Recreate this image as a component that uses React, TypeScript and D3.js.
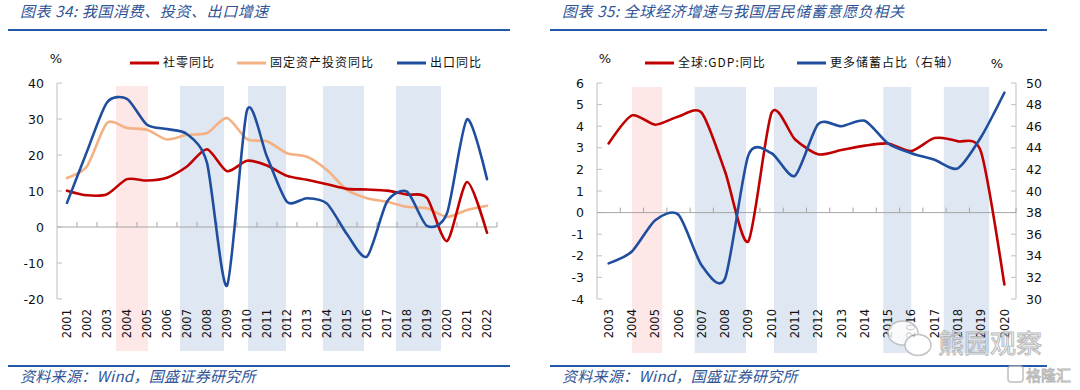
import React, { useRef, useEffect } from 'react'
import * as d3 from 'd3'

// chart 34
const years34 = ['2001', '2002', '2003', '2004', '2005', '2006', '2007', '2008', '2009', '2010', '2011',
  '2012', '2013', '2014', '2015', '2016', '2017', '2018', '2019', '2020', '2021', '2022']
const retail = [10.1, 8.8, 9.1, 13.3, 12.9, 13.7, 16.8, 21.6, 15.5, 18.4, 17.1, 14.2, 13.1, 11.9, 10.6, 10.4, 10.1, 9.0, 8.1, -3.9, 12.5, -1.6]
const invest = [13.6, 16.9, 28.9, 27.5, 27.0, 24.3, 25.6, 26.1, 30.3, 24.4, 23.8, 20.5, 19.5, 15.8, 10.3, 8.0, 7.0, 5.6, 5.2, 2.8, 4.7, 5.9]
const exportYoy = [6.7, 21.0, 34.6, 35.6, 28.4, 27.2, 25.8, 17.8, -16.3, 32.4, 19.5, 7.0, 8.0, 6.5, -2.0, -8.2, 7.0, 9.8, 0.3, 3.8, 29.9, 13.3]
const pinkBands34 = [[2003.45, 2005.05]]
const blueBands34 = [[2006.65, 2008.85], [2010.05, 2011.95], [2013.8, 2015.85], [2017.45, 2019.7]]
const ticks34 = [-20, -10, 0, 10, 20, 30, 40]

// chart 35
const years35 = ['2003', '2004', '2005', '2006', '2007', '2008', '2009', '2010', '2011', '2012',
  '2013', '2014', '2015', '2016', '2017', '2018', '2019', '2020']
const worldGdp = [3.2, 4.5, 4.07, 4.45, 4.62, 1.9, -1.33, 4.62, 3.4, 2.7, 2.9, 3.1, 3.2, 2.85, 3.45, 3.3, 2.8, -3.33]
const moreSaving = [33.3, 34.4, 37.3, 37.8, 33.1, 31.9, 43.3, 43.5, 41.4, 46.2, 46.0, 46.5, 44.4, 43.5, 42.9, 42.1, 45.0, 49.1]
const pinkBands35 = [[2004, 2005.3]]
const blueBands35 = [[2006.7, 2008.9], [2010.1, 2011.95], [2014.8, 2016], [2017.4, 2019.35]]
const ticks35L = [-4, -3, -2, -1, 0, 1, 2, 3, 4, 5, 6]
const ticks35R = [30, 32, 34, 36, 38, 40, 42, 44, 46, 48, 50]

const RED = '#c00000'
const ORANGE = '#f4b183'
const BLUE = '#1f4e9f'
const TITLE = '#2f5597'
const RULE = '#2457a8'
const AXIS = '#bfbfbf'
const PINK_BG = '#fde7e7'
const BLUE_BG = '#dfe7f2'
const NUM_FONT = '"DejaVu Sans", Verdana, sans-serif'
const CJK_FONT = '"Noto Sans CJK SC", "Noto Sans", sans-serif'

export default function App() {
  const svgRef = useRef<SVGSVGElement | null>(null)

  useEffect(() => {
    if (!svgRef.current) return
    const svg = d3.select(svgRef.current)
    svg.selectAll('*').remove()

    // excel-like smoothing, a bit tighter than plain catmull-rom
    const curve = d3.curveCardinal.tension(0.25)

    const frame = (x0: number, x1: number, title: string) => {
      svg.append('text').attr('x', x0 + 12).attr('y', 17)
        .attr('font-family', CJK_FONT).attr('font-style', 'italic').attr('font-size', 15)
        .attr('letter-spacing', 0.6).attr('fill', TITLE).text(title)
      svg.append('line').attr('x1', x0).attr('x2', x1).attr('y1', 30).attr('y2', 30)
        .attr('stroke', RULE).attr('stroke-width', 2)
      svg.append('line').attr('x1', x0).attr('x2', x1).attr('y1', 366).attr('y2', 366)
        .attr('stroke', RULE).attr('stroke-width', 2)
      svg.append('text').attr('x', x0 + 12).attr('y', 382)
        .attr('font-family', CJK_FONT).attr('font-style', 'italic').attr('font-size', 15)
        .attr('letter-spacing', 0.3).attr('fill', TITLE).text('资料来源：Wind，国盛证券研究所')
    }

    const legend = (items: { x: number; label: string; color: string }[], y: number) => {
      items.forEach(it => {
        svg.append('line').attr('x1', it.x).attr('x2', it.x + 29).attr('y1', y).attr('y2', y)
          .attr('stroke', it.color).attr('stroke-width', 3)
        svg.append('text').attr('x', it.x + 33).attr('y', y).attr('dy', '0.36em')
          .attr('font-family', CJK_FONT).attr('font-size', 12).attr('letter-spacing', 1)
          .attr('fill', '#111').text(it.label)
      })
    }

    const percent = (x: number, y: number) => {
      svg.append('text').attr('x', x).attr('y', y).attr('dy', '0.36em').attr('text-anchor', 'middle')
        .attr('font-family', NUM_FONT).attr('font-size', 13).attr('fill', '#111').text('%')
    }

    const panel = (opt: {
      years: string[]; x0: number; x1: number
      pink: number[][]; blue: number[][]; bandTop: number; bandBot: number
    }) => {
      const first = +opt.years[0]
      const last = +opt.years[opt.years.length - 1]
      const x = d3.scaleLinear().domain([first - 0.5, last + 0.5]).range([opt.x0, opt.x1])
      const g = svg.append('g')
      opt.pink.forEach(b => g.append('rect').attr('x', x(b[0])).attr('width', x(b[1]) - x(b[0]))
        .attr('y', opt.bandTop).attr('height', opt.bandBot - opt.bandTop).attr('fill', PINK_BG))
      opt.blue.forEach(b => g.append('rect').attr('x', x(b[0])).attr('width', x(b[1]) - x(b[0]))
        .attr('y', opt.bandTop).attr('height', opt.bandBot - opt.bandTop).attr('fill', BLUE_BG))
      opt.years.forEach(yr => {
        g.append('text')
          .attr('transform', `translate(${x(+yr)},309) rotate(-90)`)
          .attr('dy', '0.36em').attr('text-anchor', 'end')
          .attr('font-family', NUM_FONT).attr('font-size', 11.5).attr('fill', '#111').text(yr)
      })
      return { x, g, first, last }
    }

    const yAxis = (g: any, y: d3.ScaleLinear<number, number>, ax: number, ticks: number[], side: 'left' | 'right') => {
      g.append('line').attr('x1', ax).attr('x2', ax).attr('y1', y(ticks[0])).attr('y2', y(ticks[ticks.length - 1]))
        .attr('stroke', AXIS)
      ticks.forEach(t => {
        const dir = side === 'left' ? 1 : -1
        g.append('line').attr('x1', ax).attr('x2', ax + dir * 5).attr('y1', y(t)).attr('y2', y(t)).attr('stroke', AXIS)
        g.append('text').attr('x', side === 'left' ? ax - 13 : ax + 10).attr('y', y(t)).attr('dy', '0.36em')
          .attr('text-anchor', side === 'left' ? 'end' : 'start')
          .attr('font-family', NUM_FONT).attr('font-size', 12.5).attr('fill', '#111').text(t)
      })
    }

    const zeroAxis = (g: any, x: d3.ScaleLinear<number, number>, y0: number, first: number, last: number) => {
      g.append('line').attr('x1', x(first - 0.5)).attr('x2', x(last + 0.5)).attr('y1', y0).attr('y2', y0)
        .attr('stroke', '#a6a6a6')
      d3.range(first + 0.5, last + 1, 1).forEach(b => {
        g.append('line').attr('x1', x(b)).attr('x2', x(b)).attr('y1', y0).attr('y2', y0 - 5).attr('stroke', '#a6a6a6')
      })
    }

    const series = (g: any, x: d3.ScaleLinear<number, number>, y: d3.ScaleLinear<number, number>, years: string[], vals: number[], color: string) => {
      const line = d3.line<number>().x((_, i) => x(+years[i])).y(v => y(v)).curve(curve)
      g.append('path').attr('d', line(vals)).attr('fill', 'none').attr('stroke', color)
        .attr('stroke-width', 2.6).attr('stroke-linejoin', 'round').attr('stroke-linecap', 'round')
    }

    // ---- chart 34
    frame(8, 510, '图表 34: 我国消费、投资、出口增速')
    percent(56, 58)
    legend([
      { x: 130, label: '社零同比', color: RED },
      { x: 237, label: '固定资产投资同比', color: ORANGE },
      { x: 397, label: '出口同比', color: BLUE },
    ], 63)
    const p1 = panel({ years: years34, x0: 57, x1: 497, pink: pinkBands34, blue: blueBands34, bandTop: 86, bandBot: 351 })
    const y1 = d3.scaleLinear().domain([-20, 40]).range([299, 83])
    yAxis(p1.g, y1, 57, ticks34, 'left')
    zeroAxis(p1.g, p1.x, y1(0), p1.first, p1.last)
    series(p1.g, p1.x, y1, years34, invest, ORANGE)
    series(p1.g, p1.x, y1, years34, retail, RED)
    series(p1.g, p1.x, y1, years34, exportYoy, BLUE)

    // ---- chart 35
    frame(550, 1047, '图表 35: 全球经济增速与我国居民储蓄意愿负相关')
    percent(605, 58)
    percent(997, 63)
    legend([
      { x: 645, label: '全球:GDP:同比', color: RED },
      { x: 797, label: '更多储蓄占比（右轴）', color: BLUE },
    ], 63)
    const p2 = panel({ years: years35, x0: 597, x1: 1016, pink: pinkBands35, blue: blueBands35, bandTop: 87, bandBot: 353 })
    const y2L = d3.scaleLinear().domain([-4, 6]).range([299, 83])
    const y2R = d3.scaleLinear().domain([30, 50]).range([299, 83])
    yAxis(p2.g, y2L, 597, ticks35L, 'left')
    yAxis(p2.g, y2R, 1016, ticks35R, 'right')
    zeroAxis(p2.g, p2.x, y2L(0), p2.first, p2.last)
    series(p2.g, p2.x, y2L, years35, worldGdp, RED)
    series(p2.g, p2.x, y2R, years35, moreSaving, BLUE)

    // watermark
    const wm = svg.append('g').attr('opacity', 0.8)
    wm.append('ellipse').attr('cx', 903).attr('cy', 333).attr('rx', 15).attr('ry', 12)
      .attr('fill', 'white').attr('stroke', '#b5b5b5').attr('stroke-width', 1.5)
    wm.append('ellipse').attr('cx', 918).attr('cy', 345).attr('rx', 13).attr('ry', 10.5)
      .attr('fill', 'white').attr('stroke', '#b5b5b5').attr('stroke-width', 1.5)
    wm.append('text').attr('x', 938).attr('y', 353).attr('font-family', CJK_FONT).attr('font-size', 26)
      .attr('fill', 'white').attr('stroke', '#a8a8a8').attr('stroke-width', 1).text('熊园观察')
    wm.append('rect').attr('x', 1008).attr('y', 366).attr('width', 15).attr('height', 16).attr('rx', 3)
      .attr('fill', 'white').attr('stroke', '#b0b0b0').attr('stroke-width', 1.5)
    wm.append('text').attr('x', 1026).attr('y', 381).attr('font-family', CJK_FONT).attr('font-size', 15)
      .attr('fill', 'white').attr('stroke', '#a8a8a8').attr('stroke-width', 0.9).text('格隆汇')
  }, [])

  return (
    <svg ref={svgRef} width={1080} height={390}
      style={{ position: 'absolute', left: 0, top: 0, background: 'white' }} />
  )
}
